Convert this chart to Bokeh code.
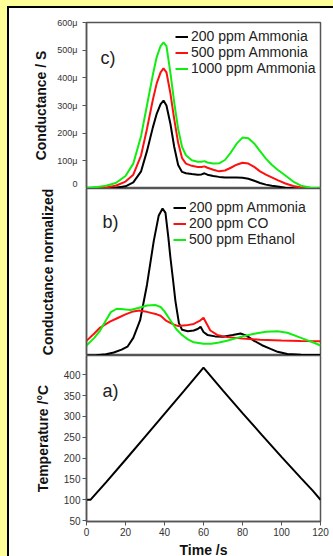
from bokeh.plotting import figure
from bokeh.models import Range1d, FixedTicker, Legend, LegendItem, Label, Div
from bokeh.layouts import column, row
from bokeh.embed import file_html
from bokeh.resources import INLINE

# ---------------- data ----------------
# panel c) conductance (in micro-siemens)
t_c = [0, 5, 10, 15, 20, 24, 28, 31, 34, 36, 38, 39.5, 41, 43, 45, 47, 49, 51, 54, 57, 59, 60.5,
       62, 65, 68, 71, 74, 77, 80, 83, 86, 89, 92, 95, 98, 102, 106, 110, 115, 120]
g_200 = [0, 0, 1, 3, 8, 22, 62, 135, 220, 270, 305, 318, 300, 235, 150, 85, 60, 55, 52, 50, 51, 55,
         50, 45, 42, 40, 40, 40, 39, 35, 28, 20, 14, 10, 7, 3, 1, 0, 0, 0]
g_500 = [1, 2, 4, 10, 25, 50, 120, 215, 320, 380, 420, 434, 420, 345, 250, 165, 110, 90, 82, 78, 78, 80,
         75, 68, 62, 65, 75, 86, 93, 90, 78, 62, 50, 40, 30, 18, 9, 4, 1, 0]
g_1000 = [2, 5, 10, 20, 45, 90, 190, 300, 410, 475, 515, 528, 515, 420, 310, 215, 150, 120, 102, 97, 97, 99,
          94, 90, 91, 103, 130, 162, 184, 182, 163, 135, 108, 86, 68, 47, 25, 10, 3, 1]
c_ticks = [0, 100, 200, 300, 400, 500, 600]
c_tick_labels = ["0", "100\u03bc", "200\u03bc", "300\u03bc", "400\u03bc", "500\u03bc", "600\u03bc"]

# panel b) normalized conductance
t_bn = [0, 5, 10, 14, 18, 21, 24, 27.5, 31, 34.5, 37, 39, 40.5, 42, 43, 44.5, 45.6, 47.4, 49, 52, 55,
        57, 58.5, 60, 62, 66, 70, 75, 79, 82, 86, 90, 94.4, 98, 103, 110, 120]
n_nh3 = [0.0, 0.002, 0.008, 0.02, 0.04, 0.06, 0.12, 0.24, 0.48, 0.78, 0.95, 1.0, 0.97, 0.80, 0.67, 0.50,
         0.37, 0.22, 0.175, 0.165, 0.17, 0.18, 0.195, 0.16, 0.14, 0.13, 0.128, 0.14, 0.15, 0.135, 0.10,
         0.07, 0.045, 0.025, 0.01, 0.005, 0.004]
t_co = [0, 4, 7, 12, 16, 20, 24, 27, 30, 33, 36, 38, 41, 44, 47, 51, 55, 58, 60, 61.5, 63.5, 67, 72,
        80, 89, 100, 110, 120]
n_co = [0.10, 0.15, 0.19, 0.23, 0.255, 0.28, 0.30, 0.306, 0.30, 0.29, 0.28, 0.27, 0.235, 0.215, 0.20,
        0.205, 0.215, 0.235, 0.257, 0.22, 0.17, 0.14, 0.125, 0.115, 0.107, 0.102, 0.098, 0.097]
t_eth = [0, 4, 7, 10, 12.5, 15.5, 19, 22.5, 27, 31, 35.5, 38, 40, 43, 46, 48.5, 52, 55, 60, 64, 68, 72,
         76, 80, 86, 92, 98, 103, 108, 113, 117, 120]
n_eth = [0.068, 0.12, 0.17, 0.24, 0.295, 0.318, 0.315, 0.31, 0.325, 0.34, 0.343, 0.33, 0.30, 0.24, 0.18,
         0.145, 0.11, 0.09, 0.08, 0.08, 0.088, 0.10, 0.115, 0.13, 0.148, 0.162, 0.165, 0.155, 0.13, 0.105,
         0.085, 0.068]

# panel a) temperature
t_temp = [0, 2, 10, 20, 30, 40, 50, 60, 70, 80, 90, 100, 110, 116, 120]
temp = [100, 100, 142, 196, 251, 306, 361, 417, 362, 308, 255, 203, 152, 122, 100]
a_ticks = [50, 100, 150, 200, 250, 300, 350, 400]
x_ticks = [0, 20, 40, 60, 80, 100, 120]

# ---------------- style ----------------
FONT = "Liberation Sans"
AX = "#555555"
YEL = "#FFFF99"
BLACK = "#000000"
RED = "#FF1010"
GREEN = "#10EE10"

xr = Range1d(0, 120)


def base_style(p):
    p.outline_line_color = AX
    p.outline_line_width = 1.5
    p.grid.visible = False
    for ax in p.axis:
        ax.axis_line_color = AX
        ax.axis_line_width = 1.5
        ax.major_tick_line_color = AX
        ax.major_tick_line_width = 1
        ax.major_tick_out = 4
        ax.major_tick_in = 0
        ax.minor_tick_out = 0
        ax.minor_tick_in = 0
        ax.major_label_text_font = FONT
        ax.major_label_text_color = "#333333"
        ax.axis_label_text_font = FONT
        ax.axis_label_text_font_style = "bold"
        ax.axis_label_text_font_size = "14px"
        ax.axis_label_text_color = "#111111"


def make_fig(ymin, ymax, fh, top, bottom):
    p = figure(x_range=xr, y_range=Range1d(ymin, ymax), frame_width=234, frame_height=fh,
               min_border_left=77, min_border_right=13, min_border_top=top, min_border_bottom=bottom,
               output_backend="svg", toolbar_location=None, background_fill_color="white",
               border_fill_color="white")
    base_style(p)
    return p


def make_legend(items, loc):
    return Legend(items=items, location=loc, margin=0, padding=2, spacing=0, label_standoff=3,
                  glyph_width=13, glyph_height=15, label_height=15,
                  label_text_font=FONT, label_text_font_size="14px", label_text_color="#222222",
                  background_fill_alpha=0, border_line_color=None)


# ---- panel c
pc = make_fig(0, 600, 166, 14, 0)
pc.xaxis.visible = False
pc.yaxis.ticker = FixedTicker(ticks=c_ticks)
pc.yaxis.major_label_overrides = dict(zip(c_ticks, c_tick_labels))
pc.yaxis.major_label_text_font_size = "9px"
pc.yaxis.major_label_standoff = 5
pc.yaxis.axis_label = "Conductance / S"
pc.yaxis.axis_label_standoff = 5
r1 = pc.line(t_c, g_200, line_color=BLACK, line_width=2)
r2 = pc.line(t_c, g_500, line_color=RED, line_width=2)
r3 = pc.line(t_c, g_1000, line_color=GREEN, line_width=2)
pc.add_layout(make_legend([LegendItem(label="200 ppm Ammonia", renderers=[r1]),
                           LegendItem(label="500 ppm Ammonia", renderers=[r2]),
                           LegendItem(label="1000 ppm Ammonia", renderers=[r3])], (89, 112)))
pc.add_layout(Label(x=7.2, y=473, text="c)", text_font=FONT, text_font_size="18px",
                    text_baseline="middle", text_color="#222222"))

# ---- panel b
pb = make_fig(0, 1.136, 167, 0, 0)
pb.xaxis.visible = False
pb.yaxis.ticker = FixedTicker(ticks=[])
pb.yaxis.axis_label = "Conductance normalized"
pb.yaxis.axis_label_standoff = 31
s1 = pb.line(t_bn, n_nh3, line_color=BLACK, line_width=2)
s2 = pb.line(t_co, n_co, line_color=RED, line_width=2)
s3 = pb.line(t_eth, n_eth, line_color=GREEN, line_width=2)
pb.add_layout(make_legend([LegendItem(label="200 ppm Ammonia", renderers=[s1]),
                           LegendItem(label="200 ppm CO", renderers=[s2]),
                           LegendItem(label="500 ppm Ethanol", renderers=[s3])], (87, 108)))
pb.add_layout(Label(x=8.2, y=0.905, text="b)", text_font=FONT, text_font_size="18px",
                    text_baseline="middle", text_color="#222222"))

# ---- panel a
pa = make_fig(48, 446, 166, 0, 35)
pa.xaxis.ticker = FixedTicker(ticks=x_ticks)
pa.xaxis.major_label_text_font_size = "10px"
pa.xaxis.major_label_standoff = 2
pa.xaxis.axis_label = "Time /s"
pa.xaxis.axis_label_standoff = 3
pa.yaxis.ticker = FixedTicker(ticks=a_ticks)
pa.yaxis.major_label_text_font_size = "10px"
pa.yaxis.major_label_standoff = 2
pa.yaxis.axis_label = "Temperature /\u00b0C"
pa.yaxis.axis_label_standoff = 10
pa.line(t_temp, temp, line_color=BLACK, line_width=2)
pa.add_layout(Label(x=8.2, y=362, text="a)", text_font=FONT, text_font_size="18px",
                    text_baseline="middle", text_color="#222222"))

# ---- frame (yellow page edge + black border)
top_strip = Div(text="", width=333, height=6, margin=0, styles={"background-color": YEL})
left_strip = Div(text="", width=7, height=550, margin=0, styles={"background-color": YEL})
left_border = Div(text="", width=2, height=550, margin=0, styles={"background-color": "black"})
top_border = Div(text="", width=324, height=2, margin=0, styles={"background-color": "black"})

inner = column(top_border, pc, pb, pa, spacing=0)
mid = row(left_strip, left_border, inner, spacing=0)
root = column(top_strip, mid, spacing=0,
              styles={"position": "fixed", "left": "0px", "top": "0px", "background-color": "white"})

open("out.html", "w").write(file_html(root, INLINE))
